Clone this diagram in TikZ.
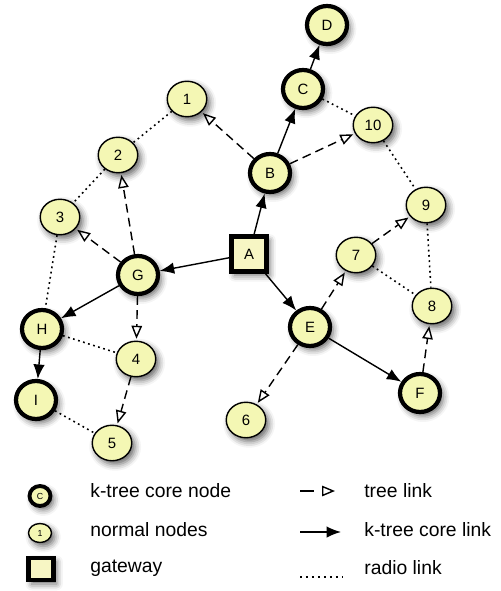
\documentclass[tikz,border=0pt]{standalone}
\usepackage{fontspec}
\setmainfont{Liberation Sans}
\usetikzlibrary{shapes.geometric,arrows.meta,shadows.blur}
\definecolor{nodefill}{RGB}{244,247,180}
\definecolor{gatefill}{RGB}{247,246,196}

\begin{document}
\begin{tikzpicture}[x=0.02cm, y=-0.02cm,
    shade/.style={blur shadow={shadow xshift=1.8pt, shadow yshift=-2.2pt, shadow blur radius=3.5pt, shadow opacity=60}},
    normal/.style={ellipse, draw, line width=0.8pt, fill=nodefill, inner sep=0pt,
        minimum width=0.79cm, minimum height=0.71cm, shade, font=\fontsize{8.5}{10}\selectfont},
    core/.style={normal, line width=2.4pt, minimum width=0.8cm, minimum height=0.76cm},
    gateway/.style={rectangle, draw, line width=2.8pt, fill=gatefill, minimum size=0.7cm,
        inner sep=0pt, shade, font=\fontsize{8.5}{10}\selectfont},
    corelink/.style={-{Latex[length=2.9mm,width=2.3mm]}, line width=0.8pt},
    treelink/.style={-{Triangle[open,length=2.6mm,width=2.1mm]}, line width=0.8pt,
        dash pattern=on 5pt off 3pt, shorten >=1pt},
    radiolink/.style={line width=0.9pt, dash pattern=on 1pt off 2pt},
    legend/.style={anchor=west, inner sep=0pt, font=\fontsize{11}{13}\selectfont}]
    \useasboundingbox (0,0) rectangle (500,591);

    % gateway and k-tree core nodes
    \node[gateway] (a) at (249,254) {A};
    \node[core] (b) at (270,173) {B};
    \node[core] (c) at (303,89) {C};
    \node[core] (d) at (327,25) {D};
    \node[core] (e) at (310,327) {E};
    \node[core] (f) at (420,393) {F};
    \node[core] (g) at (138,275) {G};
    \node[core] (h) at (42,329) {H};
    \node[core] (i) at (36,400) {I};

    % normal nodes
    \node[normal] (n1) at (187,99) {1};
    \node[normal] (n2) at (118,155) {2};
    \node[normal] (n3) at (60,217) {3};
    \node[normal] (n4) at (136,359) {4};
    \node[normal] (n5) at (112,443) {5};
    \node[normal] (n6) at (246,420) {6};
    \node[normal] (n7) at (356,255) {7};
    \node[normal] (n8) at (432,306) {8};
    \node[normal] (n9) at (426,205) {9};
    \node[normal] (n10) at (373,125) {10};

    % k-tree core links
    \draw[corelink] (a) -- (b);
    \draw[corelink] (b) -- (c);
    \draw[corelink] (c) -- (d);
    \draw[corelink] (a) -- (g);
    \draw[corelink] (g) -- (h);
    \draw[corelink] (h) -- (i);
    \draw[corelink] (a) -- (e);
    \draw[corelink] (e) -- (f);

    % tree links
    \draw[treelink] (b) -- (n1);
    \draw[treelink] (b) -- (n10);
    \draw[treelink] (g) -- (n2);
    \draw[treelink] (g) -- (n3);
    \draw[treelink] (g) -- (n4);
    \draw[treelink] (n4) -- (n5);
    \draw[treelink] (e) -- (n6);
    \draw[treelink] (e) -- (n7);
    \draw[treelink] (n7) -- (n9);
    \draw[treelink] (f) -- (n8);

    % radio links
    \draw[radiolink] (n1) -- (n2);
    \draw[radiolink] (n2) -- (n3);
    \draw[radiolink] (n3) -- (h);
    \draw[radiolink] (h) -- (n4);
    \draw[radiolink] (i) -- (n5);
    \draw[radiolink] (c) -- (n10);
    \draw[radiolink] (n10) -- (n9);
    \draw[radiolink] (n9) -- (n8);
    \draw[radiolink] (n7) -- (n8);

    % legend
    \node[core, line width=2.2pt, minimum width=0.42cm, minimum height=0.4cm,
        font=\fontsize{5}{6}\selectfont] (lgcore) at (40,496) {C};
    \node[normal, minimum width=0.46cm, minimum height=0.38cm,
        font=\fontsize{5}{6}\selectfont] (lgnormal) at (40,533) {1};
    \node[gateway, line width=2.4pt, minimum width=0.5cm, minimum height=0.45cm] (lggate) at (41,569) {};
    \node[legend] at (90,491) {k-tree core node};
    \node[legend] at (90,530) {normal nodes};
    \node[legend] at (90,568) {gateway};

    \coordinate (lgtreea) at (300,491);
    \coordinate (lgtreeb) at (335,491);
    \coordinate (lgcorea) at (300,532);
    \coordinate (lgcoreb) at (341,532);
    \coordinate (lgradioa) at (300,577);
    \coordinate (lgradiob) at (343,577);
    \draw[treelink, dash pattern=on 8pt off 10pt, shorten >=0pt] (lgtreea) -- (lgtreeb);
    \draw[corelink] (lgcorea) -- (lgcoreb);
    \draw[radiolink, dash pattern=on 1pt off 2.4pt] (lgradioa) -- (lgradiob);
    \node[legend] at (364,491) {tree link};
    \node[legend] at (364,530) {k-tree core link};
    \node[legend] at (364,568) {radio link};
\end{tikzpicture}
\end{document}
